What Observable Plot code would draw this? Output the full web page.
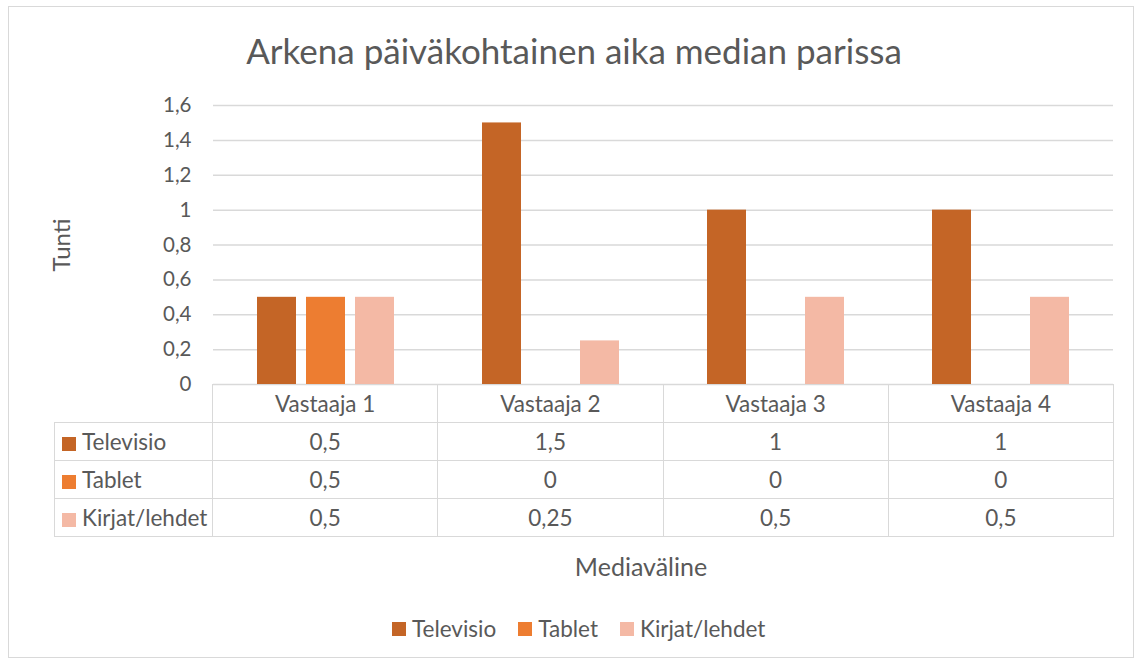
<!DOCTYPE html>
<html>
<head>
<meta charset="utf-8">
<script src="https://cdn.jsdelivr.net/npm/d3@7"></script>
<script src="https://cdn.jsdelivr.net/npm/@observablehq/plot@0.6"></script>
<style>
  html, body { margin: 0; padding: 0; background: #fff; }
  #chart { position: relative; width: 1141px; height: 664px; font-family: Lato, "Open Sans", sans-serif; color: #595959; overflow: hidden; }
  #frame { position: absolute; left: 8px; top: 6px; width: 1124px; height: 650px; border: 1.5px solid #d9d9d9; }
  #title { position: absolute; left: 0; top: 30px; width: 1148px; text-align: center; font-size: 35px; line-height: 40px; }
  #plot { position: absolute; left: 0; top: 0; }
  #ylab { position: absolute; left: 60px; top: 245px; transform: translate(-50%, -50%) rotate(-90deg); font-size: 24px; white-space: nowrap; }
  #xlab { position: absolute; left: 641px; top: 566px; transform: translate(-50%, -50%); font-size: 25px; white-space: nowrap; }
  #table { position: absolute; left: 54px; top: 384px; border-collapse: collapse; table-layout: fixed; font-size: 22.5px; }
  #table td { border: 1.5px solid #d9d9d9; height: 37px; padding: 0; text-align: center; white-space: nowrap; }
  #table td.name { text-align: left; padding-left: 7px; }
  #table td.blank { border-top: none; border-left: none; }
  .sw { display: inline-block; width: 14px; height: 14px; margin-right: 6px; vertical-align: -1px; }
  #legend { position: absolute; left: 392px; top: 615px; display: flex; gap: 22px; font-size: 22.5px; }
  #legend span.item { display: flex; align-items: center; }
</style>
</head>
<body>
<div id="chart">
  <div id="frame"></div>
  <div id="title"></div>
  <div id="plot"></div>
  <div id="ylab"></div>
  <table id="table"></table>
  <div id="xlab"></div>
  <div id="legend"></div>
</div>
<script>
const titleText = "Arkena päiväkohtainen aika median parissa";
const yLabel = "Tunti";
const xLabel = "Mediaväline";
const respondents = ["Vastaaja 1", "Vastaaja 2", "Vastaaja 3", "Vastaaja 4"];
const series = ["Televisio", "Tablet", "Kirjat/lehdet"];
const televisio = [0.5, 1.5, 1, 1];
const tablet = [0.5, 0, 0, 0];
const kirjat = [0.5, 0.25, 0.5, 0.5];
const colors = ["#C46526", "#ED7D31", "#F4B9A5"];
const yTicks = [0, 0.2, 0.4, 0.6, 0.8, 1, 1.2, 1.4, 1.6];

const valuesBySeries = [televisio, tablet, kirjat];
const data = [];
respondents.forEach((r, i) => {
  series.forEach((s, j) => data.push({respondent: r, series: s, value: valuesBySeries[j][i]}));
});
const fmt = d => String(d).replace(".", ",");

document.getElementById("title").textContent = titleText;
document.getElementById("ylab").textContent = yLabel;
document.getElementById("xlab").textContent = xLabel;

const plot = Plot.plot({
  width: 1141,
  height: 540,
  marginLeft: 212,
  marginRight: 28,
  marginTop: 105,
  marginBottom: 156,
  style: {background: "transparent", color: "#595959", fontFamily: "Lato, 'Open Sans', sans-serif", fontSize: "20px"},
  fx: {domain: respondents, padding: 0, axis: null, label: null},
  x: {domain: series, paddingInner: 0.2, paddingOuter: 0.8525, axis: null, label: null},
  y: {domain: [0, 1.6], label: null},
  color: {domain: series, range: colors},
  marks: [
    Plot.gridY(yTicks, {stroke: "#d9d9d9", strokeOpacity: 1, strokeWidth: 1.5}),
    Plot.axisY(yTicks, {tickSize: 0, tickPadding: 22, tickFormat: fmt, fontSize: 20.5, label: null}),
    Plot.barY(data, {fx: "respondent", x: "series", y: "value", fill: "series"})
  ]
});
document.getElementById("plot").appendChild(plot);

// data table
const table = document.getElementById("table");
const colgroup = document.createElement("colgroup");
[158, ...respondents.map(() => 225.25)].forEach(w => {
  const c = document.createElement("col"); c.style.width = w + "px"; colgroup.appendChild(c);
});
table.appendChild(colgroup);
const head = document.createElement("tr");
const blank = document.createElement("td"); blank.className = "blank"; head.appendChild(blank);
respondents.forEach(r => { const td = document.createElement("td"); td.textContent = r; head.appendChild(td); });
table.appendChild(head);
series.forEach((s, j) => {
  const tr = document.createElement("tr");
  const name = document.createElement("td"); name.className = "name";
  name.innerHTML = `<span class="sw" style="background:${colors[j]}"></span>${s}`;
  tr.appendChild(name);
  valuesBySeries[j].forEach(v => { const td = document.createElement("td"); td.textContent = fmt(v); tr.appendChild(td); });
  table.appendChild(tr);
});

// legend
const legend = document.getElementById("legend");
series.forEach((s, j) => {
  const it = document.createElement("span"); it.className = "item";
  it.innerHTML = `<span class="sw" style="background:${colors[j]};vertical-align:middle"></span>${s}`;
  legend.appendChild(it);
});
</script>
</body>
</html>
